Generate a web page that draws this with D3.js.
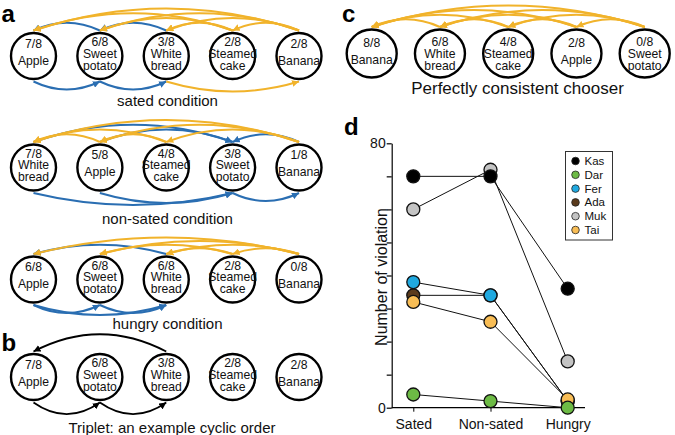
<!DOCTYPE html>
<html><head><meta charset="utf-8">
<script src="https://cdn.jsdelivr.net/npm/d3@7"></script>
<style>body{margin:0;background:#fff}svg{display:block;font-family:"Liberation Sans",Arial,sans-serif}</style>
</head><body><svg id="c" width="675" height="435"></svg>
<script>
// ---------- DATA ----------
// Panel a: sated
const satedFoods = ["Apple","Sweet potato","White bread","Steamed cake","Banana"];
const satedScores = ["7/8","6/8","3/8","2/8","2/8"];
const satedArcs = [[4,0,"c","top"],[4,1,"c","top"],[4,2,"c","top"],[4,3,"c","top"],[3,0,"c","top"],[3,1,"c","top"],[3,2,"c","top"],
  [1,0,"v","top"],[2,1,"v","top"],[0,1,"v","bottom"],[1,2,"v","bottom"],[2,4,"c","bottom"]];
// Panel a: non-sated
const nonSatedFoods = ["White bread","Apple","Steamed cake","Sweet potato","Banana"];
const nonSatedScores = ["7/8","5/8","4/8","3/8","1/8"];
const nonSatedArcs = [[4,0,"c","top"],[4,1,"c","top"],[4,2,"c","top"],[2,0,"c","top"],[2,1,"c","top"],[1,0,"c","top"],
  [0,3,"v","top"],[1,3,"v","top"],[4,3,"v","top"],[0,3,"v","bottom"],[1,3,"v","bottom"],[3,4,"v","bottom"]];
// Panel a: hungry
const hungryFoods = ["Apple","Sweet potato","White bread","Steamed cake","Banana"];
const hungryScores = ["6/8","6/8","6/8","2/8","0/8"];
const hungryArcs = [[4,0,"c","top"],[4,1,"c","top"],[4,2,"c","top"],[4,3,"c","top"],[3,1,"c","top"],[3,2,"c","top"],
  [2,0,"v","top"],[0,1,"v","bottom"],[0,2,"v","bottom"],[1,2,"v","bottom"]];
// Panel b: triplet
const tripletFoods = ["Apple","Sweet potato","White bread","Steamed cake","Banana"];
const tripletScores = ["7/8","6/8","3/8","2/8","2/8"];
const tripletArcs = [[2,0,"k","top"],[0,1,"k","bottom"],[1,2,"k","bottom"]];
// Panel c: perfectly consistent chooser
const consistentFoods = ["Banana","White bread","Steamed cake","Apple","Sweet potato"];
const consistentScores = ["8/8","6/8","4/8","2/8","0/8"];
const consistentArcs = [[4,0,"c","top"],[4,1,"c","top"],[4,2,"c","top"],[4,3,"c","top"],[3,0,"c","top"],[3,1,"c","top"],[3,2,"c","top"],[2,0,"c","top"],[2,1,"c","top"],[1,0,"c","top"]];
// Panel d
const conditions = ["Sated","Non-sated","Hungry"];
const monkeys = ["Kas","Dar","Fer","Ada","Muk","Tai"];
const kasValues = [70,70,36];
const darValues = [4,2,0];
const ferValues = [38,34,2];
const adaValues = [34,34,2];
const mukValues = [60,72,14];
const taiValues = [32,26,2.5];
const yTicks = [0,10,20,30,40,50,60,70,80];
const yTickLabels = [0,80];

// ---------- DRAW ----------
const svg = d3.select("#c");
const FONT = '"Liberation Sans",Arial,sans-serif';
const arcColor = {c:"#f1b32b", v:"#2a6eb2", k:"#000"};
const defs = svg.append("defs");
Object.entries(arcColor).forEach(([k,col])=>{
  defs.append("marker").attr("id","arr-"+k).attr("markerUnits","userSpaceOnUse")
    .attr("markerWidth",8).attr("markerHeight",7).attr("refX",7).attr("refY",3.5)
    .attr("orient","auto").append("path").attr("d","M0,0L7,3.5L0,7Z").attr("fill",col);
});

function drawRow(g, foods, scores, arcs, opt){
  const x = d3.scalePoint().domain(d3.range(foods.length)).range(opt.range);
  const top = opt.cy - opt.ry - 2.5, bot = opt.cy + opt.ry + 2.5;
  const order = arcs.slice().sort((a,b)=> (a[2]==="c") - (b[2]==="c"));
  order.forEach(a=>{
    const x1 = x(a[0]), x2 = x(a[1]), d = Math.abs(x2-x1);
    let p;
    if (a[3]==="top"){
      const h = opt.topA + opt.topB*d;
      p = `M${x1},${top} Q${(x1+x2)/2},${top-2*h} ${x2},${top}`;
    } else {
      const h = opt.botA + opt.botB*d;
      p = `M${x1},${bot} Q${(x1+x2)/2},${bot+2*h} ${x2},${bot}`;
    }
    g.append("path").attr("d",p).attr("fill","none").attr("stroke",arcColor[a[2]])
      .attr("stroke-width",a[2]==="k"?1.8:2).attr("marker-end","url(#arr-"+a[2]+")");
  });
  foods.forEach((f,i)=>{
    const cx = x(i);
    g.append("ellipse").attr("cx",cx).attr("cy",opt.cy).attr("rx",opt.rx).attr("ry",opt.ry)
      .attr("fill","#fff").attr("stroke","#000").attr("stroke-width",2.4);
    const words = f.split(" ");
    const offs = words.length===1 ? opt.off1 : opt.off2;
    const lines = [scores[i]].concat(words);
    lines.forEach((t,j)=>{
      g.append("text").attr("x",cx).attr("y",opt.cy+offs[j]).attr("text-anchor","middle")
        .attr("dominant-baseline","central").attr("font-size",12.2).attr("fill","#111").text(t);
    });
  });
  g.append("text").attr("x",opt.labelX).attr("y",opt.labelY).attr("text-anchor","middle")
    .attr("dominant-baseline","central").attr("font-size",opt.labelSize).attr("fill","#111").text(opt.label);
}

const aRange = [33.5, 299];
const baseOpt = {range:aRange, rx:22.5, ry:23, topA:3, topB:0.072, botA:6, botB:0.03,
  off1:[-12.5,4.5], off2:[-14,-2.5,9.5], labelX:167.5, labelSize:15};
drawRow(svg.append("g"), satedFoods, satedScores, satedArcs, {...baseOpt, cy:56, label:"sated condition", labelY:100});
drawRow(svg.append("g"), nonSatedFoods, nonSatedScores, nonSatedArcs, {...baseOpt, cy:167.5, label:"non-sated condition", labelY:218.5});
drawRow(svg.append("g"), hungryFoods, hungryScores, hungryArcs, {...baseOpt, cy:279.5, topA:2, topB:0.055, label:"hungry condition", labelY:323.5});
drawRow(svg.append("g"), tripletFoods, tripletScores, tripletArcs, {...baseOpt, cy:377, topA:4, topB:0.1, botA:5, botB:0.1, label:"Triplet: an example cyclic order", labelX:172, labelY:427});
drawRow(svg.append("g"), consistentFoods, consistentScores, consistentArcs, {range:[371.7,644.7], rx:25, ry:24, cy:53.5, topA:3, topB:0.068, botA:6, botB:0.03,
  off1:[-10.5,6.5], off2:[-12,0,12], label:"Perfectly consistent chooser", labelX:517.5, labelY:88.5, labelSize:17});

// panel letters
[["a",1.5,22],["b",1.5,351],["c",342,22],["d",344,135]].forEach(([t,x,y])=>{
  svg.append("text").attr("x",x).attr("y",y).attr("font-size",24).attr("font-weight","bold").attr("fill","#000").text(t);
});

// ---------- Panel d ----------
const series = [
  {name:"Kas", values:kasValues, color:"#000000"},
  {name:"Dar", values:darValues, color:"#6dbb45"},
  {name:"Fer", values:ferValues, color:"#20a9e0"},
  {name:"Ada", values:adaValues, color:"#5a3a1c"},
  {name:"Muk", values:mukValues, color:"#c4c4c4"},
  {name:"Tai", values:taiValues, color:"#f8bd55"}
];
const drawOrder = ["Ada","Muk","Fer","Tai","Dar","Kas"];
const xd = d3.scalePoint().domain(conditions).range([413.3, 567.7]);
const yd = d3.scaleLinear().domain([0,80]).range([407.7, 143.3]);
const gd = svg.append("g");
const yAxis = gd.append("g").attr("transform","translate(391.7,0)")
  .call(d3.axisLeft(yd).tickValues(yTicks).tickSize(5).tickSizeOuter(0)
    .tickFormat(v => yTickLabels.includes(v) ? v : ""));
yAxis.selectAll("text").attr("font-size",14).attr("font-family",FONT).attr("fill","#111").attr("x",-6);
yAxis.selectAll("path,line").attr("stroke","#000").attr("stroke-width",1.2);
const xAxis = gd.append("g").attr("transform","translate(0,407.7)")
  .call(d3.axisBottom(xd).tickSize(4).tickSizeOuter(0));
xAxis.select(".domain").remove();
xAxis.selectAll("text").attr("font-size",14).attr("font-family",FONT).attr("fill","#111").attr("dy","1.05em");
xAxis.selectAll("line").attr("stroke","#000");
gd.append("line").attr("x1",391.7).attr("x2",585).attr("y1",407.7).attr("y2",407.7).attr("stroke","#000").attr("stroke-width",1.2);
gd.append("text").attr("transform","translate(381,277) rotate(-90)").attr("text-anchor","middle")
  .attr("dominant-baseline","central").attr("font-size",16).attr("fill","#111").text("Number of violation");

const line = d3.line().x((v,i)=>xd(conditions[i])).y(v=>yd(v));
const ordered = drawOrder.map(n=>series.find(s=>s.name===n));
ordered.forEach(s=>{
  gd.append("path").attr("d",line(s.values)).attr("fill","none").attr("stroke","#111").attr("stroke-width",1);
});
ordered.forEach(s=>{
  s.values.forEach((v,i)=>{
    gd.append("circle").attr("cx",xd(conditions[i])).attr("cy",yd(v)).attr("r",6.5)
      .attr("fill",s.color).attr("stroke","#111").attr("stroke-width",1.3);
  });
});

// legend
const lg = gd.append("g");
lg.append("rect").attr("x",565.5).attr("y",151.5).attr("width",47).attr("height",88.5)
  .attr("fill","#fff").attr("stroke","#333").attr("stroke-width",1);
const ly = d3.scalePoint().domain(monkeys).range([161,230]);
series.forEach(s=>{
  lg.append("circle").attr("cx",575.5).attr("cy",ly(s.name)).attr("r",3.8).attr("fill",s.color).attr("stroke","#222").attr("stroke-width",0.8);
  lg.append("text").attr("x",584.5).attr("y",ly(s.name)).attr("dominant-baseline","central")
    .attr("font-size",11.5).attr("fill","#111").text(s.name);
});
</script></body></html>
